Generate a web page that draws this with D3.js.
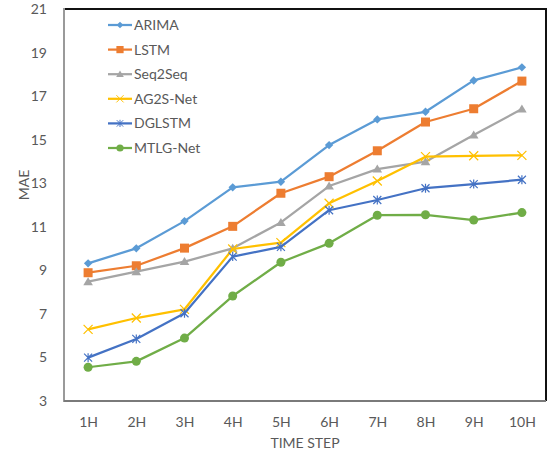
<!DOCTYPE html>
<html>
<head>
<meta charset="utf-8">
<script src="https://cdn.jsdelivr.net/npm/d3@7"></script>
<style>
  html, body { margin: 0; padding: 0; background: #fff; }
  svg text { font-family: Lato, "Open Sans", sans-serif; fill: #595959; }
</style>
</head>
<body>
<svg id="chart" width="553" height="458"></svg>
<script>
// Time steps along the x axis
const steps = ["1H", "2H", "3H", "4H", "5H", "6H", "7H", "8H", "9H", "10H"];
// MAE per model
const arima  = [9.32, 10.01, 11.26, 12.81, 13.07, 14.75, 15.93, 16.28, 17.72, 18.32];
const lstm   = [8.89, 9.21, 10.02, 11.02, 12.54, 13.30, 14.49, 15.81, 16.42, 17.69];
const seq2seq = [8.48, 8.94, 9.40, 10.01, 11.20, 12.87, 13.65, 13.99, 15.21, 16.41];
const ag2s   = [6.29, 6.81, 7.21, 9.98, 10.27, 12.08, 13.10, 14.22, 14.26, 14.28];
const dglstm = [4.99, 5.85, 7.03, 9.63, 10.08, 11.76, 12.23, 12.77, 12.96, 13.16];
const mtlg   = [4.55, 4.82, 5.89, 7.82, 9.37, 10.24, 11.53, 11.55, 11.31, 11.65];
const yTicks = [3, 5, 7, 9, 11, 13, 15, 17, 19, 21];

const series = [
  { name: "ARIMA",    values: arima,   color: "#5B9BD5", marker: "diamond" },
  { name: "LSTM",     values: lstm,    color: "#ED7D31", marker: "square" },
  { name: "Seq2Seq",  values: seq2seq, color: "#A5A5A5", marker: "triangle" },
  { name: "AG2S-Net", values: ag2s,    color: "#FFC000", marker: "x" },
  { name: "DGLSTM",   values: dglstm,  color: "#4472C4", marker: "star" },
  { name: "MTLG-Net", values: mtlg,    color: "#70AD47", marker: "circle" }
];

const svg = d3.select("#chart");
const plotL = 64, plotR = 546, plotT = 9, plotB = 401;

const x = d3.scalePoint().domain(steps).range([plotL, plotR]).padding(0.5);
const y = d3.scaleLinear().domain([3, 21]).range([plotB, plotT]);

// Plot frame: dark top/right, grey left/bottom
svg.append("line").attr("x1", plotL).attr("x2", plotR + 1).attr("y1", plotT).attr("y2", plotT)
  .attr("stroke", "#111").attr("stroke-width", 2);
svg.append("line").attr("x1", plotR).attr("x2", plotR).attr("y1", plotT).attr("y2", plotB)
  .attr("stroke", "#111").attr("stroke-width", 2);
svg.append("line").attr("x1", plotL).attr("x2", plotL).attr("y1", plotT - 1).attr("y2", plotB + 1)
  .attr("stroke", "#9a9a9a").attr("stroke-width", 2);
svg.append("line").attr("x1", plotL).attr("x2", plotR).attr("y1", plotB).attr("y2", plotB)
  .attr("stroke", "#7a7a7a").attr("stroke-width", 2);

// Y axis labels
const yAxis = svg.append("g").attr("transform", `translate(${plotL},0)`)
  .call(d3.axisLeft(y).tickValues(yTicks).tickSize(0).tickPadding(17));
yAxis.select(".domain").remove();
yAxis.selectAll("text").style("font-size", "14px").attr("fill", "#595959")
  .style("font-family", "Lato, 'Open Sans', sans-serif");

// X axis labels
const xAxis = svg.append("g").attr("transform", `translate(0,${plotB})`)
  .call(d3.axisBottom(x).tickSize(0).tickPadding(16));
xAxis.select(".domain").remove();
xAxis.selectAll("text").style("font-size", "14px").attr("fill", "#595959")
  .style("font-family", "Lato, 'Open Sans', sans-serif");

// Axis titles
svg.append("text").attr("transform", "translate(29,185) rotate(-90)")
  .attr("text-anchor", "middle").style("font-size", "14px").text("MAE");
svg.append("text").attr("x", (plotL + plotR) / 2).attr("y", 448)
  .attr("text-anchor", "middle").style("font-size", "14px").text("TIME STEP");

function drawMarker(g, type, color) {
  if (type === "diamond") {
    g.append("path").attr("d", "M0,-4.2L4.2,0L0,4.2L-4.2,0Z").attr("fill", color);
  } else if (type === "square") {
    g.append("rect").attr("x", -4.5).attr("y", -4.5).attr("width", 9).attr("height", 9).attr("fill", color);
  } else if (type === "triangle") {
    g.append("path").attr("d", "M0,-4.5L4.8,3.5L-4.8,3.5Z").attr("fill", color);
  } else if (type === "x") {
    g.append("path").attr("d", "M-4.5,-4.5L4.5,4.5M-4.5,4.5L4.5,-4.5")
      .attr("stroke", color).attr("stroke-width", 1.2).attr("fill", "none");
  } else if (type === "star") {
    g.append("path").attr("d", "M-4,-4L4,4M-4,4L4,-4M0,-4.5L0,4.5")
      .attr("stroke", color).attr("stroke-width", 1.2).attr("fill", "none");
  } else if (type === "circle") {
    g.append("circle").attr("r", 4.5).attr("fill", color);
  }
}

const line = d3.line().x((d, i) => x(steps[i])).y(d => y(d));

series.forEach(s => {
  svg.append("path").datum(s.values).attr("d", line)
    .attr("fill", "none").attr("stroke", s.color).attr("stroke-width", 2.25)
    .attr("stroke-linejoin", "round");
  s.values.forEach((v, i) => {
    const g = svg.append("g").attr("transform", `translate(${x(steps[i])},${y(v)})`);
    drawMarker(g, s.marker, s.color);
  });
});

// Legend
const legend = svg.append("g");
series.forEach((s, i) => {
  const ly = 25 + i * 24.6;
  const row = legend.append("g").attr("transform", `translate(0,${ly})`);
  row.append("line").attr("x1", 108).attr("x2", 132).attr("y1", 0).attr("y2", 0)
    .attr("stroke", s.color).attr("stroke-width", 2.25);
  const m = row.append("g").attr("transform", "translate(120,0) scale(0.8)");
  drawMarker(m, s.marker, s.color);
  row.append("text").attr("x", 134).attr("y", 0).attr("dy", "0.35em")
    .style("font-size", "14px").text(s.name);
});
</script>
</body>
</html>
